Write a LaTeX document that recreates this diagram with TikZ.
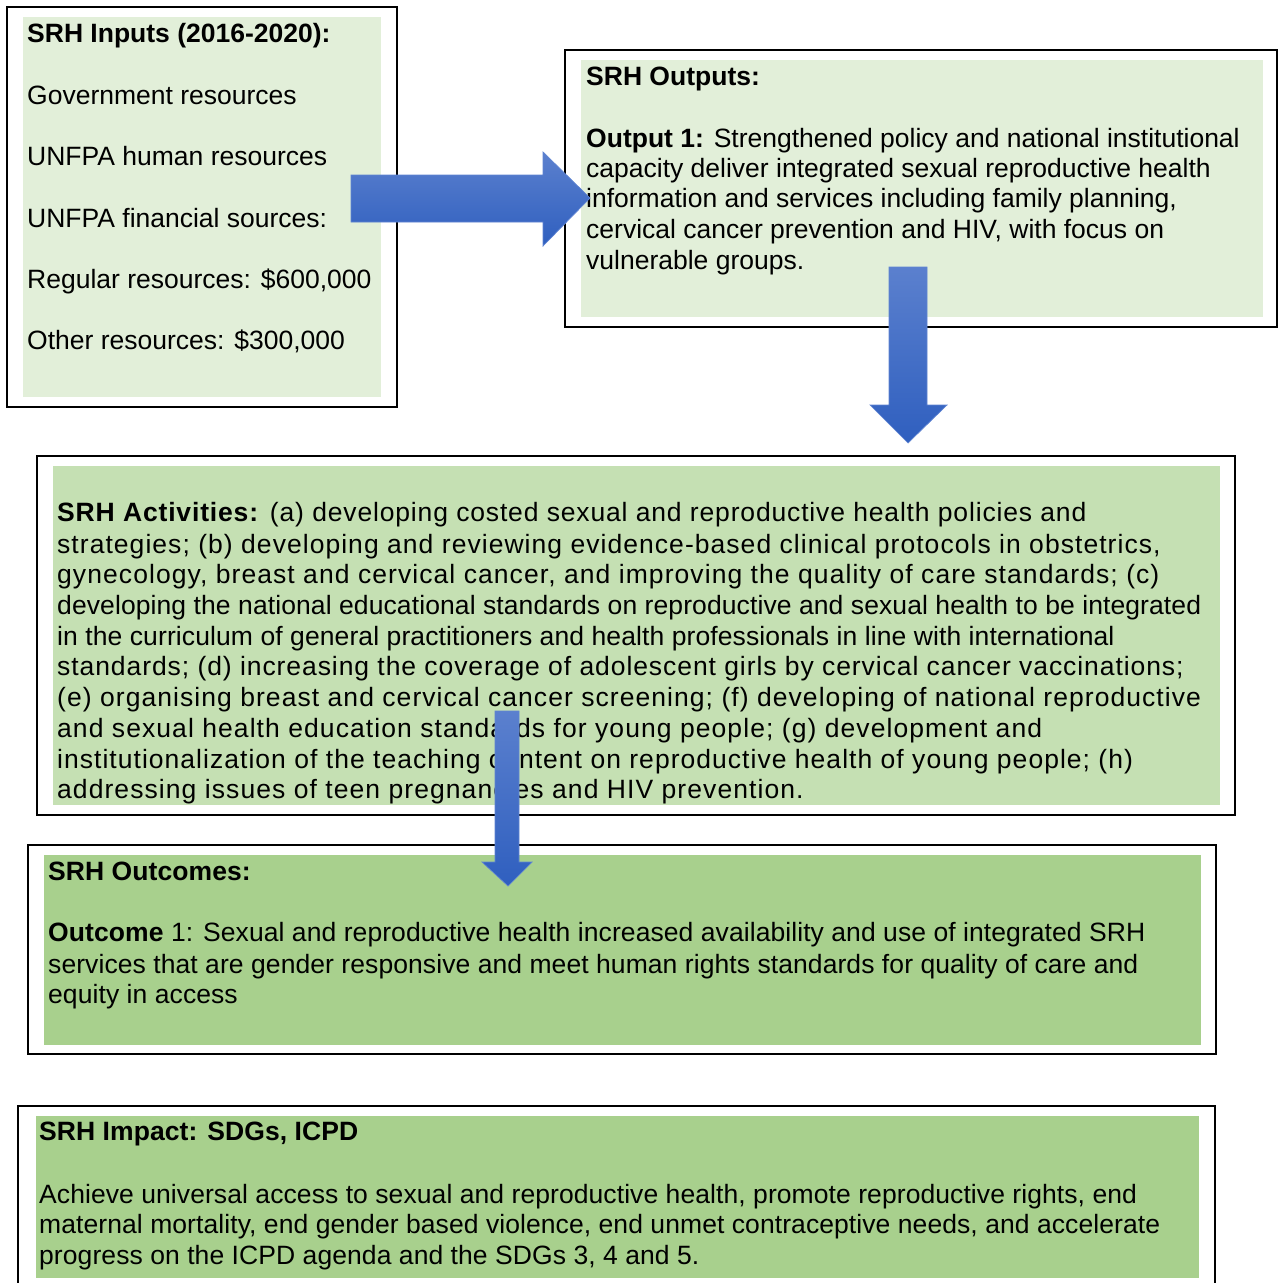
\documentclass[tikz,border=0pt]{standalone}
\usepackage{fontspec}
\setmainfont{Liberation Sans}
\newfontfamily\actfont{Liberation Sans}
\newfontfamily\widefont[LetterSpace=0.3]{Liberation Sans}
\usetikzlibrary{calc}
\definecolor{gA}{HTML}{E2EFD9}
\definecolor{gB}{HTML}{C5E0B3}
\definecolor{gC}{HTML}{A8D08D}
\definecolor{arTop}{HTML}{5B80CE}
\definecolor{arBot}{HTML}{2F5FBF}
\definecolor{arEdge}{HTML}{5F84D2}
\tikzset{
  outerbox/.style={draw=black,line width=1.3pt},
  txt/.style={anchor=base west,inner sep=0pt,font=\fontsize{26.5}{30.7}\selectfont},
  widetxt/.style={anchor=base west,inner sep=0pt,font=\widefont\fontsize{26.5}{30.7}\selectfont},
  acttxt/.style={anchor=base west,inner sep=0pt,font=\actfont\addfontfeature{LetterSpace=#1}\fontsize{26.5}{30.7}\selectfont},
  bigarrow/.style={top color=arTop,bottom color=arBot,draw=arEdge,line width=0.7pt},
}
\begin{document}
\begin{tikzpicture}[x=1pt,y=-1pt]
\useasboundingbox (0,0) rectangle (1278,1283);
\fill[white] (0,0) rectangle (1278,1283);
% Inputs
\draw[outerbox] (7,7) rectangle (397,407);
\fill[gA] (23,17) rectangle (381,397);
\node[txt] (in0) at (27,42) {\textbf{SRH Inputs (2016-2020):}};
\node[txt] (in1) at (27,104) {Government resources};
\node[txt] (in2) at (27,165) {UNFPA human resources};
\node[txt] (in3) at (27,227) {UNFPA financial sources:};
\node[txt] (in4) at (27,288) {Regular resources: \$600,000};
\node[txt] (in5) at (27,349) {Other resources: \$300,000};
% Outputs
\draw[outerbox] (565,50) rectangle (1277,327);
\fill[gA] (581,60) rectangle (1263,317);
\node[txt] (out0) at (586,85) {\textbf{SRH Outputs:}};
\node[txt] (out1) at (586,147) {\textbf{Output 1:} Strengthened policy and national institutional};
\node[txt] (out2) at (586,177) {capacity deliver integrated sexual reproductive health};
\node[txt] (out3) at (586,207) {information and services including family planning,};
\node[txt] (out4) at (586,238) {cervical cancer prevention and HIV, with focus on};
\node[txt] (out5) at (586,269) {vulnerable groups.};
% Activities
\draw[outerbox] (37,456) rectangle (1235,815);
\fill[gB] (53,466) rectangle (1220,805);
\node[acttxt=3.2] (act1) at (57,521) {\textbf{SRH Activities:} (a) developing costed sexual and reproductive health policies and};
\node[acttxt=3.95] (act2) at (57,553) {strategies; (b) developing and reviewing evidence-based clinical protocols in obstetrics,};
\node[acttxt=4.05] (act3) at (57,583) {gynecology, breast and cervical cancer, and improving the quality of care standards; (c)};
\node[acttxt=0.37] (act4) at (57,614) {developing the national educational standards on reproductive and sexual health to be integrated};
\node[acttxt=0.4] (act5) at (57,645) {in the curriculum of general practitioners and health professionals in line with international};
\node[acttxt=3.5] (act6) at (57,675) {standards; (d) increasing the coverage of adolescent girls by cervical cancer vaccinations;};
\node[acttxt=4.0] (act7) at (57,706) {(e) organising breast and cervical cancer screening; (f) developing of national reproductive};
\node[acttxt=4.05] (act8) at (57,737) {and sexual health education standards for young people; (g) development and};
\node[acttxt=3.9] (act9) at (57,768) {institutionalization of the teaching content on reproductive health of young people; (h)};
\node[acttxt=4.05] (act10) at (57,798) {addressing issues of teen pregnancies and HIV prevention.};
% Outcomes
\draw[outerbox] (28,845) rectangle (1216,1054);
\fill[gC] (44,855) rectangle (1201,1045);
\node[widetxt] (oc0) at (48,880) {\textbf{SRH Outcomes:}};
\node[widetxt] (oc1) at (48,941) {\textbf{Outcome} 1: Sexual and reproductive health increased availability and use of integrated SRH};
\node[widetxt] (oc2) at (48,973) {services that are gender responsive and meet human rights standards for quality of care and};
\node[widetxt] (oc3) at (48,1003) {equity in access};
% Impact
\draw[outerbox] (18,1300) -- (18,1106) -- (1215,1106) -- (1215,1300);
\fill[gC] (36,1116) rectangle (1199,1278);
\node[widetxt] (im0) at (39,1140) {\textbf{SRH Impact: SDGs, ICPD}};
\node[widetxt] (im1) at (39,1203) {Achieve universal access to sexual and reproductive health, promote reproductive rights, end};
\node[widetxt] (im2) at (39,1233) {maternal mortality, end gender based violence, end unmet contraceptive needs, and accelerate};
\node[widetxt] (im3) at (39,1264) {progress on the ICPD agenda and the SDGs 3, 4 and 5.};
% Arrows
\coordinate (a1tip) at (590,198);
\shade[bigarrow] (351,175) -- (543,175) -- (543,152) -- (a1tip) -- (543,246) -- (543,222) -- (351,222) -- cycle;
\coordinate (a2tip) at (908,443);
\shade[bigarrow] (889,267) -- (927,267) -- (927,405) -- (947,405) -- (a2tip) -- (870,405) -- (889,405) -- cycle;
\coordinate (a3tip) at (508,886);
\shade[bigarrow] (495,711) -- (519,711) -- (519,862) -- (532,862) -- (a3tip) -- (482,862) -- (495,862) -- cycle;
\end{tikzpicture}
\end{document}
